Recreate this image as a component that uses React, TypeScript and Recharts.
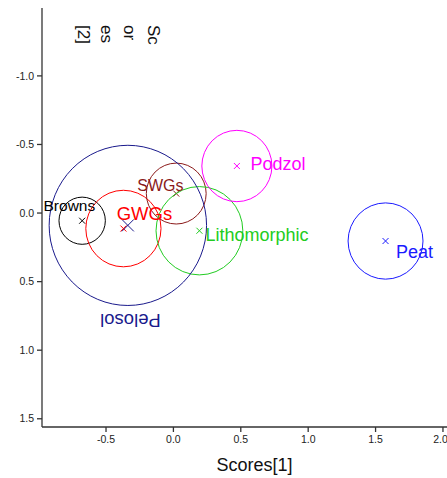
import { ScatterChart, Scatter, XAxis, YAxis } from 'recharts';

// groups, centres (Scores[1], Scores[2]) and circle radii
const GROUPS = ['Browns', 'GWGs', 'SWGs', 'Lithomorphic', 'Podzol', 'Peat', 'Pelosol'];
const CENTER_X = [-0.677, -0.371, 0.021, 0.193, 0.471, 1.574, -0.338];
const CENTER_Y = [0.056, 0.113, -0.142, 0.129, -0.343, 0.204, 0.09];
const RADIUS = [0.172, 0.279, 0.222, 0.322, 0.26, 0.278, 0.584];
// label anchors in data units
const LABEL_X = [-0.772, -0.215, -0.097, 0.62, 0.776, 1.789, -0.319];
const LABEL_Y = [-0.058, 0.0, -0.204, 0.16, -0.358, 0.282, 0.781];

const X_TICKS = [-0.5, 0, 0.5, 1, 1.5, 2];
const Y_TICKS = [-1, -0.5, 0, 0.5, 1, 1.5];

const COLORS = ['#000000', '#ff0000', '#8b1a1a', '#22cc22', '#ff00ff', '#1a1aff', '#1a1a8c'];
const LABEL_SIZE = [15.5, 18.5, 16, 18, 18, 18, 18.5];
const CROSS_SIZE = [3, 3, 3, 3, 3, 3, 6];

const W = 447;
const H = 478;
const TOP = 8;
const LEFT = 42;
const XAXIS_H = 51;
const X_DOMAIN: [number, number] = [-0.975, 2.03];
const Y_DOMAIN: [number, number] = [-1.495, 1.56];
const PX_X = (W - LEFT) / (X_DOMAIN[1] - X_DOMAIN[0]);
const PX_Y = (H - TOP - XAXIS_H) / (Y_DOMAIN[1] - Y_DOMAIN[0]);

const FONT = '"Liberation Sans", Arial, sans-serif';

const circles = GROUPS.map((g, i) => ({ name: g, x: CENTER_X[i], y: CENTER_Y[i], r: RADIUS[i], i }));
const labels = GROUPS.map((g, i) => ({ name: g, x: LABEL_X[i], y: LABEL_Y[i], i }));

const CircleShape = (props: any) => {
  const { cx, cy, payload } = props;
  if (cx == null || cy == null) return null;
  const c = COLORS[payload.i];
  const s = CROSS_SIZE[payload.i];
  return (
    <g>
      <ellipse cx={cx} cy={cy} rx={payload.r * PX_X} ry={payload.r * PX_Y} fill="none" stroke={c} strokeWidth={1} />
      <line x1={cx - s} y1={cy - s} x2={cx + s} y2={cy + s} stroke={c} strokeWidth={1} />
      <line x1={cx - s} y1={cy + s} x2={cx + s} y2={cy - s} stroke={c} strokeWidth={1} />
    </g>
  );
};

const LabelShape = (props: any) => {
  const { cx, cy, payload } = props;
  if (cx == null || cy == null) return null;
  const flip = payload.name === 'Pelosol';
  return (
    <g transform={flip ? `rotate(180 ${cx} ${cy})` : undefined}>
      <text
        x={cx}
        y={cy}
        textAnchor="middle"
        dominantBaseline="central"
        fill={COLORS[payload.i]}
        fontSize={LABEL_SIZE[payload.i]}
        fontFamily={FONT}
      >
        {payload.name}
      </text>
    </g>
  );
};

// R wrapped the y title into short chunks, drawn rotated 90deg clockwise
const YTitle = () => (
  <g>
    {['Sc', 'or', 'es', '[2]'].map((t, k) => {
      const x = 153 - k * 23.3;
      return (
        <g key={k} transform={`translate(${x} 25) rotate(90)`}>
          <text x={0} y={0} dominantBaseline="central" fontFamily={FONT} fontSize={17} fill="#111">
            {t}
          </text>
        </g>
      );
    })}
  </g>
);

const XTitle = () => (
  <text x={254.5} y={465} textAnchor="middle" dominantBaseline="central" fontFamily={FONT} fontSize={18} fill="#111">
    Scores[1]
  </text>
);

const tickStyle = { fill: '#222', fontSize: 10.5, fontFamily: FONT };

export default function App() {
  return (
    <div style={{ position: 'absolute', left: 0, top: 0, width: W, height: H, background: '#fff', overflow: 'hidden' }}>
      <ScatterChart width={W} height={H} margin={{ top: TOP, right: 0, bottom: 0, left: 0 }}>
        <XAxis
          type="number"
          dataKey="x"
          domain={X_DOMAIN}
          ticks={X_TICKS}
          allowDataOverflow
          height={XAXIS_H}
          tickSize={5}
          tickMargin={4}
          stroke="#333"
          strokeWidth={1.3}
          tick={tickStyle}
          tickFormatter={(v: number) => v.toFixed(1)}
          label={<XTitle />}
        />
        <YAxis
          type="number"
          dataKey="y"
          reversed
          domain={Y_DOMAIN}
          ticks={Y_TICKS}
          allowDataOverflow
          width={LEFT}
          tickSize={5}
          tickMargin={3}
          stroke="#333"
          strokeWidth={1.3}
          tick={tickStyle}
          tickFormatter={(v: number) => v.toFixed(1)}
          label={<YTitle />}
        />
        <Scatter data={circles} shape={<CircleShape />} isAnimationActive={false} />
        <Scatter data={labels} shape={<LabelShape />} isAnimationActive={false} />
      </ScatterChart>
    </div>
  );
}
